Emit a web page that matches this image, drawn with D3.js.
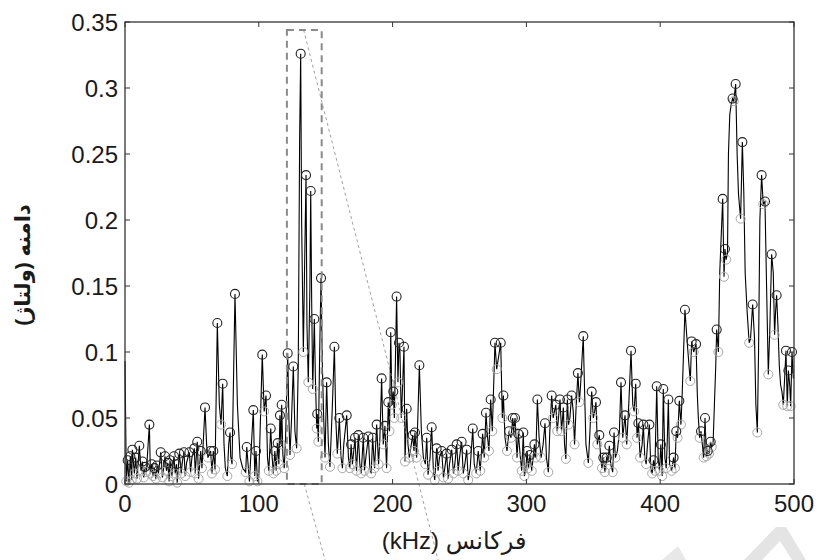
<!DOCTYPE html>
<html><head><meta charset="utf-8">
<script src="https://cdn.jsdelivr.net/npm/d3@7"></script>
<style>
html,body{margin:0;padding:0;background:#fff;}
svg{display:block;}
</style></head>
<body>
<script>
// ---------- data ----------
const freq = [0,1,2,3,4,5,5.5,7,8,9,10.7,12,13,14,15,16,18.2,19,20,21,22,23,24,25,26.7,28,29.9,31,32,33,33.6,35,36.6,37.5,38.5,39,40.6,42,43,44.1,45,46,48.1,49,50,51.8,52.5,54,55,56.6,57.5,59.8,61,62,64,65,66,67.3,69,70.5,71.8,73,74,75,76.5,77.5,78.5,79,80,82.2,84,86,88,90.2,91,92,93,95.9,97,97.9,99,100,102.6,104,105.4,106.5,107.5,108.9,110,110.9,112,113,114.1,115,115.8,116.5,117.1,118,119,120,121.6,122.5,123.3,124.5,125.8,127,128.3,129.5,130.5,131.3,132,133.3,134.3,135.3,136,137,138.2,138.8,139.5,140.3,141.5,142.3,143.3,143.7,144.5,145.5,146.5,147.5,148.5,149.5,150.7,152,153.2,155,156.5,157.5,158.7,160.2,161.5,162.5,163.5,165.7,167,168,169,170,171.9,173,174.4,175.5,176.5,178.1,179,180,181.9,183,184,185.1,186.5,188.1,189.5,190.5,191.8,193,194.3,195.5,196.8,197.7,198.6,199.5,200.5,201.3,203,204,204.8,205.5,206.5,207.5,208.5,209.3,210.5,211.5,212.5,214,215,216,216.7,218,220,221.5,223,224.5,225.5,226.5,228,229.2,230.5,231.5,232.9,234,235,236.7,238,239,240.4,241.5,242.5,244.2,245.5,246.5,247.9,249,250,251.6,252.8,254,255.4,256.5,258,259.9,261,262.5,264,265.5,267.3,268.5,269.8,271,272,273.3,274.5,276.5,277.8,279,280.8,282,282.8,284,285.5,287,288.5,289.8,290.5,291.5,292.5,293,294,295.5,296.5,297.7,298.5,299.5,300.5,301.5,302.7,304,305,306,307,308.2,309.5,311,312.5,313.9,315,316.4,317.5,318.9,320,321,322,323,324,325.1,326.3,327.6,328.5,329.5,330.6,331.5,332.5,333.8,335,336,337,338.5,339.6,340.5,342.5,343.5,344.5,346.3,347.5,348.8,350,351,352,353,354.5,355.5,356.5,357.5,358.7,360,361,362,363,364.5,365.5,366.5,368,369.5,370.7,372,373.7,375,376.5,378.2,379.5,380.5,381.7,382.7,383.7,385,386.5,387.4,388.5,389.5,390.5,391.9,393,394,395,396,397.4,398.5,399.5,400.5,401.5,402.3,403.5,404.5,405.2,406.1,407,408.5,410,411,412,413,414.3,415.5,416.5,418.5,420,421.5,422.5,423.5,425,426.8,427.7,428.5,429.5,430.5,431.5,432.5,433.5,434.5,435.5,436.5,437.7,438.5,439.5,440.5,441.5,442.2,443.5,444.5,446.7,447.7,448.4,449.3,450.3,451,452,453,454.1,455,456.4,457.5,458.5,459.3,460.1,461.4,462.5,463.5,465,466.5,467.5,469.1,470.5,471.5,472.6,473.5,474.5,475.8,477,478.3,479.5,480.8,482,483.3,484.5,485.5,486.2,487,488,489,490,491,492,493,494,495,495.8,496.8,497.5,498.5,499.5];
const amp = [.093,.002,.018,.001,.021,.003,.026,.008,.020,.004,.029,.010,.017,.005,.013,.009,.045,.008,.015,.006,.012,.004,.014,.008,.024,.005,.021,.010,.016,.002,.018,.006,.021,.008,.015,.001,.023,.008,.018,.024,.006,.016,.024,.009,.020,.027,.008,.032,.004,.025,.012,.058,.030,.020,.025,.008,.025,.011,.122,.060,.045,.076,.030,.012,.006,.030,.039,.021,.015,.144,.060,.020,.012,.009,.028,.015,.002,.056,.006,.025,.002,.005,.098,.055,.067,.020,.010,.042,.020,.008,.025,.010,.031,.015,.052,.030,.060,.022,.012,.035,.099,.050,.022,.050,.089,.040,.027,.090,.260,.326,.200,.100,.170,.234,.120,.077,.150,.222,.140,.072,.125,.080,.042,.053,.032,.100,.156,.090,.050,.020,.077,.030,.013,.060,.104,.050,.023,.050,.020,.012,.030,.052,.020,.012,.030,.015,.035,.010,.037,.015,.008,.035,.010,.020,.036,.012,.008,.035,.012,.045,.015,.035,.080,.030,.044,.012,.062,.040,.115,.060,.070,.050,.142,.077,.107,.100,.050,.075,.104,.017,.057,.030,.020,.030,.037,.025,.039,.020,.090,.040,.020,.015,.035,.007,.020,.043,.010,.003,.027,.010,.020,.025,.005,.012,.023,.004,.015,.026,.008,.015,.030,.010,.020,.032,.008,.015,.026,.003,.012,.042,.015,.008,.025,.010,.038,.020,.054,.035,.025,.064,.040,.107,.087,.095,.107,.050,.067,.035,.025,.040,.035,.050,.040,.050,.030,.020,.038,.020,.010,.039,.006,.010,.025,.012,.022,.010,.020,.030,.020,.064,.035,.020,.030,.046,.020,.009,.040,.067,.050,.055,.060,.040,.050,.064,.040,.058,.030,.019,.064,.045,.050,.067,.055,.030,.055,.084,.062,.075,.112,.070,.030,.016,.040,.070,.050,.055,.062,.030,.037,.020,.012,.020,.009,.020,.018,.029,.015,.009,.039,.020,.025,.040,.077,.035,.052,.030,.060,.101,.060,.055,.076,.035,.046,.020,.030,.045,.020,.015,.030,.045,.012,.008,.018,.010,.074,.020,.010,.030,.006,.072,.020,.012,.030,.064,.015,.010,.020,.012,.040,.035,.063,.045,.070,.132,.110,.090,.078,.108,.100,.106,.069,.050,.035,.040,.030,.020,.050,.021,.025,.023,.032,.028,.030,.060,.089,.117,.100,.160,.216,.157,.178,.170,.175,.250,.280,.287,.292,.290,.303,.250,.220,.210,.201,.259,.220,.160,.130,.107,.110,.136,.110,.060,.039,.100,.200,.234,.212,.214,.150,.083,.120,.174,.160,.113,.130,.143,.120,.090,.075,.070,.060,.080,.101,.059,.086,.075,.059,.100,.080];
const xTicks = [0,100,200,300,400,500];
const yTicks = [0,0.05,0.1,0.15,0.2,0.25,0.3,0.35];
const yTickLabels = ["0","0.05","0.1","0.15","0.2","0.25","0.3","0.35"];
const xLabel = "فرکانس (kHz)";
const yLabel = "دامنه (ولتاژ)";
const zoomBox = {x0:121, x1:147, y0:0, y1:0.344};
const connectors = [[[133.5,0.344],[234,-0.0576]],[[134,0],[149.5,-0.0576]]];

// ---------- layout ----------
const W = 819, H = 560;
const m = {left:125, right:W-794, top:22, bottom:H-484};
const svg = d3.select("body").append("svg").attr("width",W).attr("height",H);
const x = d3.scaleLinear().domain([0,500]).range([m.left, W-m.right]);
const y = d3.scaleLinear().domain([0,0.35]).range([H-m.bottom, m.top]);
const font = "'Liberation Sans', Arial, 'DejaVu Sans', sans-serif";

// watermark (faint)
svg.append("path")
  .attr("d","M744,560 L776,527 L786,527 L806,560 L792,560 L780,541 L762,560 Z")
  .attr("fill","#e4e4e4");
svg.append("path")
  .attr("d","M662,560 L678,546 L686,560 Z").attr("fill","#e8e8e8");

// data line
const pts = freq.map((f,i)=>[f,amp[i]]);
svg.append("path").datum(pts)
  .attr("fill","none").attr("stroke","#000").attr("stroke-width",1.1)
  .attr("d", d3.line().x(d=>x(d[0])).y(d=>y(d[1])));

// markers: local minima gray, local maxima black
const minima = [], maxima = [];
for (let i=1;i<pts.length-1;i++){
  if (amp[i] > amp[i-1] && amp[i] >= amp[i+1]) maxima.push(pts[i]);
  else if (amp[i] < amp[i-1] && amp[i] <= amp[i+1]) minima.push(pts[i]);
}
svg.append("g").selectAll("circle").data(minima).join("circle")
  .attr("cx",d=>x(d[0])).attr("cy",d=>y(d[1])).attr("r",4.5)
  .attr("fill","none").attr("stroke","#a8a8a8").attr("stroke-width",1);
svg.append("g").selectAll("circle").data(maxima).join("circle")
  .attr("cx",d=>x(d[0])).attr("cy",d=>y(d[1])).attr("r",4.5)
  .attr("fill","none").attr("stroke","#222").attr("stroke-width",1.1);

// zoom box + connectors
svg.append("rect")
  .attr("x",x(zoomBox.x0)).attr("y",y(zoomBox.y1))
  .attr("width",x(zoomBox.x1)-x(zoomBox.x0)).attr("height",y(zoomBox.y0)-y(zoomBox.y1))
  .attr("fill","none").attr("stroke","#8a8a8a").attr("stroke-width",2).attr("stroke-dasharray","7,5");
svg.append("g").selectAll("line").data(connectors).join("line")
  .attr("x1",d=>x(d[0][0])).attr("y1",d=>y(d[0][1]))
  .attr("x2",d=>x(d[1][0])).attr("y2",d=>y(d[1][1]))
  .attr("stroke","#888").attr("stroke-width",0.8).attr("stroke-dasharray","3,3");

// frame with inward ticks on all sides
const g = svg.append("g");
g.append("rect").attr("x",x(0)).attr("y",y(0.35)).attr("width",x(500)-x(0)).attr("height",y(0)-y(0.35))
  .attr("fill","none").attr("stroke","#333").attr("stroke-width",1.3);
const tl = 5;
xTicks.forEach(t=>{
  g.append("line").attr("x1",x(t)).attr("x2",x(t)).attr("y1",y(0)).attr("y2",y(0)-tl).attr("stroke","#333");
  g.append("line").attr("x1",x(t)).attr("x2",x(t)).attr("y1",y(0.35)).attr("y2",y(0.35)+tl).attr("stroke","#333");
  g.append("text").attr("x",x(t)).attr("y",y(0)+28).attr("text-anchor","middle")
    .attr("font-family",font).attr("font-size",24).attr("fill","#1a1a1a").text(t);
});
yTicks.forEach((t,i)=>{
  g.append("line").attr("x1",x(0)).attr("x2",x(0)+tl).attr("y1",y(t)).attr("y2",y(t)).attr("stroke","#333");
  g.append("line").attr("x1",x(500)).attr("x2",x(500)-tl).attr("y1",y(t)).attr("y2",y(t)).attr("stroke","#333");
  g.append("text").attr("x",x(0)-7).attr("y",y(t)).attr("dy","0.36em").attr("text-anchor","end")
    .attr("font-family",font).attr("font-size",24).attr("fill","#1a1a1a").text(yTickLabels[i]);
});

// axis titles
svg.append("text").attr("x",454).attr("y",549).attr("text-anchor","middle")
  .attr("direction","rtl").style("direction","rtl").style("unicode-bidi","embed")
  .attr("font-family",font).attr("font-size",24).attr("fill","#1a1a1a").text(xLabel);
svg.append("text").attr("transform","translate(30,265) rotate(-90)").attr("text-anchor","middle")
  .attr("direction","rtl").style("direction","rtl").style("unicode-bidi","embed")
  .attr("font-family",font).attr("font-size",21).attr("font-weight","bold").attr("fill","#1a1a1a").text(yLabel);
</script>
</body></html>
